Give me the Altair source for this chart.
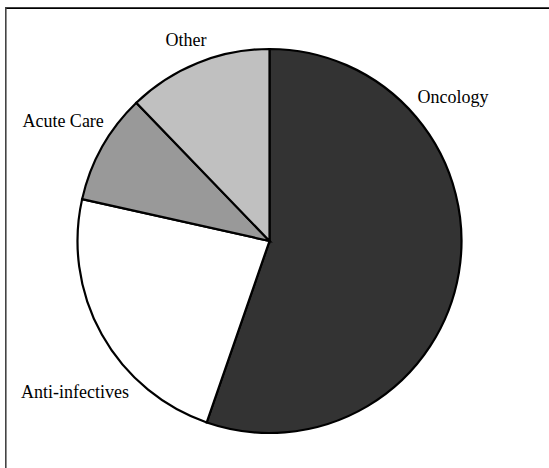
import altair as alt
import pandas as pd

# Slice data (clockwise from 12 o'clock)
categories = ["Oncology", "Anti-infectives", "Acute Care", "Other"]
shares = [55.3, 23.2, 9.3, 12.2]
colors = ["#333333", "#ffffff", "#999999", "#c0c0c0"]

# Label placement (angle clockwise from top, in degrees; distance from centre in px)
label_angle = [52.1, 232.0, 300.0, 337.3]
label_dist = [232.6, 246.8, 238.3, 216.7]

pie_df = pd.DataFrame({
    "category": categories,
    "share": shares,
    "order": list(range(len(categories))),
})
lab_df = pd.DataFrame({
    "category": categories,
    "angle": label_angle,
    "dist": label_dist,
})

W, H = 520, 440
CX, CY = 269.5, 241

pie = alt.Chart(pie_df).mark_arc(
    radius=192, stroke="#000000", strokeWidth=2.2
).encode(
    x=alt.value(CX), y=alt.value(CY),
    theta=alt.Theta("share:Q", stack=True),
    color=alt.Color("category:N", scale=alt.Scale(domain=categories, range=colors), legend=None),
    order=alt.Order("order:Q"),
)

labels = alt.Chart(lab_df).mark_text(
    font="Liberation Serif", fontSize=18, color="#000000", align="center", baseline="middle"
).encode(
    x=alt.value(CX), y=alt.value(CY),
    theta=alt.Theta("angle:Q", scale=alt.Scale(domain=[0, 360], range=[0, 6.283185307])),
    radius=alt.Radius("dist:Q", scale=alt.Scale(type="linear", domain=[0, 300], range=[0, 300], zero=True)),
    text="category:N",
)

frame_src = pd.DataFrame({"k": [0]})
top_rule = alt.Chart(frame_src).mark_rule(color="#000000", strokeWidth=1.7).encode(
    x=alt.value(5), x2=alt.value(549), y=alt.value(8.2)
)
left_rule = alt.Chart(frame_src).mark_rule(color="#444444", strokeWidth=1.6).encode(
    x=alt.value(5.8), y=alt.value(7.5), y2=alt.value(468)
)

chart = alt.layer(pie, labels, top_rule, left_rule).resolve_scale(
    theta="independent", radius="independent", color="independent"
).properties(
    width=W, height=H,
    padding={"left": 0, "top": 0, "right": 549 - W, "bottom": 468 - H},
    autosize=alt.AutoSizeParams(type="none"),
    background="#ffffff"
).configure_view(strokeWidth=0, stroke="transparent")

chart.save("out.html", embed_options={"renderer": "svg", "actions": False})
